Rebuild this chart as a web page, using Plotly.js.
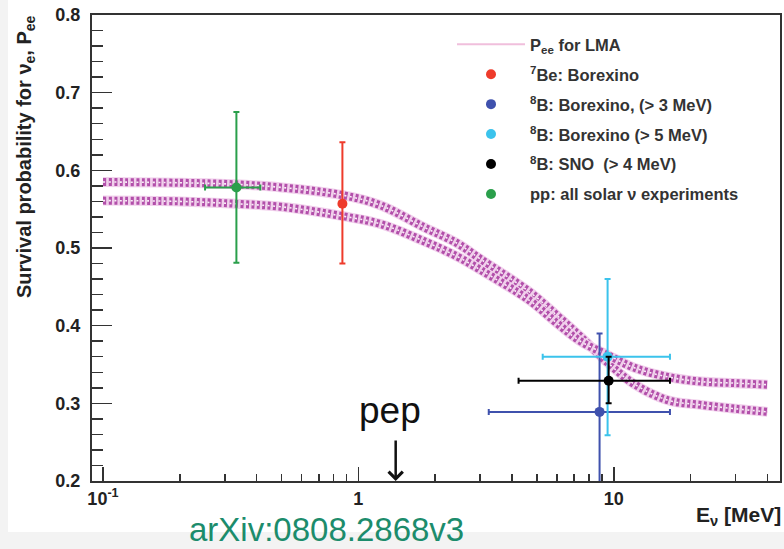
<!DOCTYPE html>
<html><head><meta charset="utf-8">
<script src="https://cdn.plot.ly/plotly-3.0.1.min.js"></script>
<style>html,body{margin:0;padding:0;background:#f3f3f3}#chart{width:784px;height:549px}</style>
</head><body><div id="chart"></div>
<script>
// LMA survival-probability band: two edge curves
const energy   = [0.1, 0.2, 0.33, 0.5, 0.87, 1.22, 1.8, 2.44, 3.0, 4.7, 6.0, 7.4, 9.5, 12, 16.3, 21.9, 30, 40];
const peeEdgeA = [0.585, 0.584, 0.582, 0.578, 0.568, 0.555, 0.527, 0.506, 0.486, 0.443, 0.413, 0.386, 0.352, 0.325, 0.304, 0.298, 0.293, 0.289];
const peeEdgeB = [0.561, 0.560, 0.557, 0.553, 0.541, 0.531, 0.509, 0.489, 0.472, 0.432, 0.403, 0.380, 0.362, 0.346, 0.334, 0.328, 0.326, 0.324];

// measurements
const pointLabels = ['<sup>7</sup>Be: Borexino', '<sup>8</sup>B: Borexino, (> 3 MeV)', '<sup>8</sup>B: Borexino (> 5 MeV)', '<sup>8</sup>B: SNO  (> 4 MeV)', 'pp: all solar ν experiments'];
const pointE      = [0.866, 8.8, 9.46, 9.55, 0.333];
const pointP      = [0.557, 0.289, 0.360, 0.329, 0.578];
const errPUp      = [0.079, 0.101, 0.100, 0.031, 0.097];
const errPDown    = [0.077, 0.110, 0.101, 0.029, 0.097];
const eLow        = [null, 3.24, 5.27, 4.24, 0.251];
const eHigh       = [null, 16.6, 16.6, 16.6, 0.413];

const xMajor = [0.1, 1, 10];
const xMajorText = ['10<sup>-1</sup>', '1', '10'];
const xMinor = [0.2,0.3,0.4,0.5,0.6,0.7,0.8,0.9,2,3,4,5,6,7,8,9,20,30,40];
const pepEnergy = 1.4;

const pointColors = ['#ee3b2b', '#3f51ad', '#3bc3ec', '#000000', '#2a9f4b'];

const traces = [];
// legend-carrying thin line
traces.push({x: energy, y: peeEdgeA, mode: 'lines', name: 'P<sub>ee</sub> for LMA', legendgroup: 'lma',
  line: {color: '#f0bfdc', width: 2}, hoverinfo: 'skip'});
[peeEdgeA, peeEdgeB].forEach(function (edge) {
  traces.push({x: energy, y: edge, mode: 'lines', showlegend: false, hoverinfo: 'skip',
    line: {color: '#f1d0ec', width: 10, shape: 'spline'}});
  traces.push({x: energy, y: edge, mode: 'lines', showlegend: false, hoverinfo: 'skip',
    line: {color: '#b24faa', width: 8, shape: 'spline', dash: '3px,2.5px'}});
  traces.push({x: energy, y: edge, mode: 'lines', showlegend: false, hoverinfo: 'skip',
    line: {color: 'rgba(255,255,255,0.9)', width: 1.6, shape: 'spline', dash: '2px,3.5px'}});
});
pointLabels.forEach(function (lab, i) {
  const hasX = eLow[i] !== null;
  traces.push({
    x: [pointE[i]], y: [pointP[i]], mode: 'markers', name: lab, legendgroup: 'g' + i,
    marker: {color: pointColors[i], size: 10},
    error_y: {type: 'data', symmetric: false, array: [errPUp[i]], arrayminus: [errPDown[i]],
      color: pointColors[i], thickness: 2, width: 3},
    error_x: hasX ? {type: 'data', symmetric: false, array: [eHigh[i] - pointE[i]], arrayminus: [pointE[i] - eLow[i]],
      color: pointColors[i], thickness: 2, width: 3} : {visible: false}
  });
});

const L = 92, R = 4, T = 15, B = 68, W = 784 - L - R, H = 549 - T - B;
const px = v => (v - L) / W;
const py = v => (T + H - v) / H;
const bold = {family: '"Liberation Sans", Arial, sans-serif', weight: 'bold', color: '#222'};

const layout = {
  width: 784, height: 549,
  margin: {l: L, r: R, t: T, b: B},
  paper_bgcolor: '#f3f3f3', plot_bgcolor: 'rgba(0,0,0,0)',
  showlegend: true,
  legend: {x: px(452), y: py(27), xanchor: 'left', yanchor: 'top', bgcolor: 'rgba(0,0,0,0)',
    itemwidth: 68, tracegroupgap: 5.5, traceorder: 'grouped',
    font: Object.assign({}, bold, {size: 16.5, color: '#333'})},
  xaxis: {type: 'log', range: [-1.043, 1.651], showgrid: false, zeroline: false,
    showline: true, mirror: true, linecolor: '#333', linewidth: 2,
    tickmode: 'array', tickvals: xMajor, ticktext: xMajorText,
    ticks: 'inside', ticklen: 14, tickwidth: 1.5, tickcolor: '#333',
    minor: {tickmode: 'array', tickvals: xMinor, ticks: 'inside', ticklen: 7, tickwidth: 1.5, tickcolor: '#333', showgrid: false},
    tickfont: Object.assign({}, bold, {size: 18})},
  yaxis: {range: [0.2, 0.8], showgrid: false, zeroline: false,
    showline: true, mirror: true, linecolor: '#333', linewidth: 2,
    dtick: 0.1, tickformat: '.1f',
    ticks: 'inside', ticklen: 20, tickwidth: 1.5, tickcolor: '#333',
    minor: {dtick: 0.02, ticks: 'inside', ticklen: 11, tickwidth: 1.5, tickcolor: '#333', showgrid: false},
    ticklabelstandoff: 6,
    tickfont: Object.assign({}, bold, {size: 18})},
  shapes: [{type: 'rect', xref: 'paper', yref: 'paper', x0: px(8), x1: px(784), y0: py(532), y1: py(0),
    fillcolor: '#ffffff', line: {width: 0}, layer: 'below'}],
  annotations: [
    {xref: 'paper', yref: 'paper', x: px(25), y: py(157), xanchor: 'center', yanchor: 'middle', textangle: -90, showarrow: false,
      text: 'Survival probability for ν<sub>e</sub>, P<sub>ee</sub>', font: Object.assign({}, bold, {size: 20})},
    {xref: 'paper', yref: 'paper', x: px(783), y: py(516), xanchor: 'right', yanchor: 'middle', showarrow: false,
      text: 'E<sub>ν</sub> [MeV]', font: Object.assign({}, bold, {size: 21})},
    {xref: 'x', yref: 'y', x: Math.log10(pepEnergy), y: 0.2, ax: 0, ay: -42, text: '', showarrow: true,
      arrowhead: 4, arrowsize: 1.1, arrowwidth: 2.5, arrowcolor: '#111', standoff: 0},
    {xref: 'paper', yref: 'paper', x: px(390), y: py(410), xanchor: 'center', yanchor: 'middle', showarrow: false,
      text: 'pep', font: {family: '"Liberation Sans", Arial, sans-serif', size: 37, color: '#111'}},
    {xref: 'paper', yref: 'paper', x: px(326), y: py(529), xanchor: 'center', yanchor: 'middle', showarrow: false,
      text: 'arXiv:0808.2868v3', font: {family: '"Liberation Sans", Arial, sans-serif', size: 33, color: '#1c8c6c'}}
  ]
};

Plotly.newPlot('chart', traces, layout, {displayModeBar: false, staticPlot: true});
</script>
</body></html>
